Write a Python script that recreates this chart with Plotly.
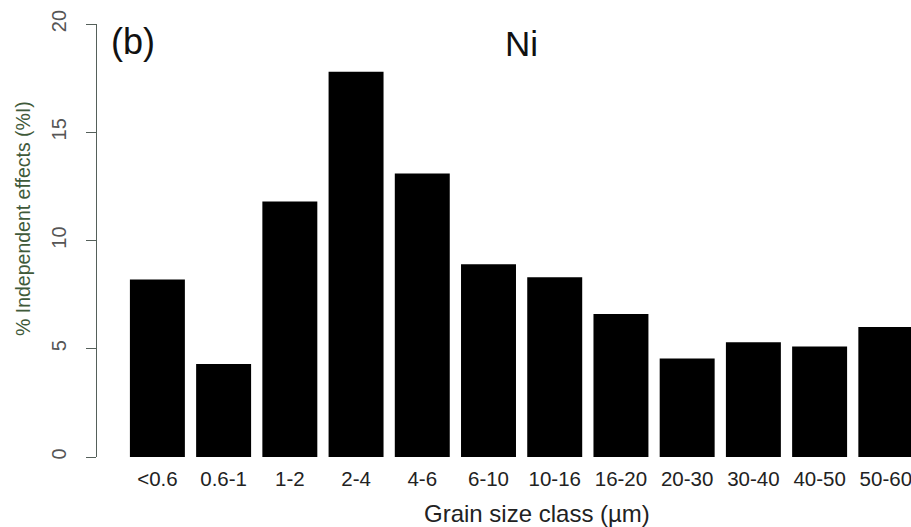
import plotly.graph_objects as go

categories = ["<0.6", "0.6-1", "1-2", "2-4", "4-6", "6-10", "10-16",
              "16-20", "20-30", "30-40", "40-50", "50-60"]
values = [8.2, 4.3, 11.8, 17.8, 13.1, 8.9, 8.3, 6.6, 4.55, 5.3, 5.1, 6.0]
y_ticks = [0, 5, 10, 15, 20]

W, H = 911, 527
ML, MR, MT, MB = 97, 0, 24, 70
PW, PH = W - ML - MR, H - MT - MB

def px(x):
    return (x - ML) / PW

def py(y):
    return (H - MB - y) / PH

fig = go.Figure(go.Bar(x=categories, y=values, marker=dict(color="black", line=dict(width=0))))

font = "Liberation Sans, Arial, sans-serif"
fig.update_layout(
    width=W, height=H,
    margin=dict(l=ML, r=MR, t=MT, b=MB),
    paper_bgcolor="white", plot_bgcolor="white",
    bargap=0.17,
    showlegend=False,
    font=dict(family=font, color="#222"),
    xaxis=dict(
        type="category", range=[-0.912, 11.38],
        showline=False, showgrid=False, ticks="", zeroline=False,
        tickfont=dict(size=20.5, color="#222"),
        ticklabelstandoff=7,
    ),
    yaxis=dict(
        range=[0, 20], tickvals=y_ticks, ticktext=[str(v) for v in y_ticks],
        showline=True, linecolor="#55605a", linewidth=1.2,
        ticks="outside", ticklen=10, tickcolor="#55605a", tickwidth=1.2,
        showgrid=False, zeroline=False,
        tickangle=-90,
        tickfont=dict(size=20, color="#555"),
        ticklabelstandoff=12,
    ),
    annotations=[
        dict(text="% Independent effects (%I)", xref="paper", yref="paper",
             x=px(23), y=py(219), showarrow=False, textangle=-90,
             font=dict(size=19.5, color="#3f5a3a", family=font),
             xanchor="center", yanchor="middle"),
        dict(text="Grain size class (µm)", xref="paper", yref="paper",
             x=px(537), y=py(513), showarrow=False,
             font=dict(size=24, color="#222", family=font),
             xanchor="center", yanchor="middle"),
        dict(text="(b)", xref="paper", yref="paper",
             x=px(133), y=py(41), showarrow=False,
             font=dict(size=36, color="#111", family=font),
             xanchor="center", yanchor="middle"),
        dict(text="Ni", xref="paper", yref="paper",
             x=px(521), y=py(43), showarrow=False,
             font=dict(size=35, color="#111", family=font),
             xanchor="center", yanchor="middle"),
    ],
)

fig.write_html("out.html")
